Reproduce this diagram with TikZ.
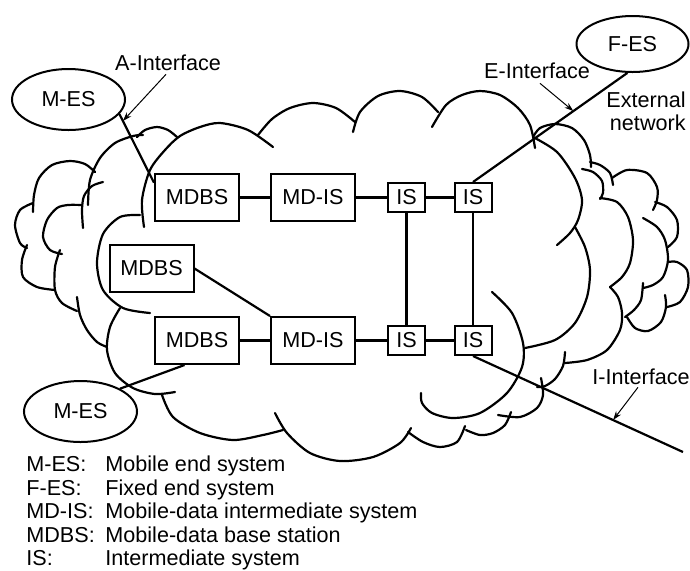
\documentclass[tikz,border=0pt]{standalone}
\usepackage{fontspec}
\setmainfont{Liberation Sans}
\usetikzlibrary{shapes.geometric,arrows.meta,calc}
\newcommand\figfont{\fontsize{10.8}{11.6}\selectfont}
\begin{document}
\begin{tikzpicture}[x=0.5pt,y=-0.5pt,
  cloud/.style={line width=1.1pt,line cap=round,line join=round},
  link/.style={line width=1.1pt},
  box/.style={draw,line width=1pt,fill=white,inner sep=0pt,font=\figfont,
    minimum width=42pt,minimum height=23.5pt},
  isbox/.style={box,minimum width=18.5pt,minimum height=14.5pt},
  station/.style={draw,ellipse,line width=1pt,fill=white,inner sep=0pt,
    font=\figfont,minimum width=56.5pt,minimum height=30.5pt},
  lbl/.style={inner sep=0pt,font=\figfont},
  pointer/.style={line width=0.5pt,-{Stealth[length=4.5pt,width=3pt]}},
  legend/.style={inner sep=0pt,font=\figfont,anchor=base west}]
\useasboundingbox (0,0) rectangle (690,570);

% ---- backbone cloud ----
\draw[cloud] plot[smooth] coordinates {(144,227) (142,200) (150,170) (165,150) (180,136) (200,127) (220,123) (248,130) (273,147)};
\draw[cloud] plot[smooth] coordinates {(258,135) (272,119) (290,108) (313,103) (336,108) (355,122)};
\draw[cloud] plot[smooth] coordinates {(353,132) (360,112) (378,96) (400,91) (422,97) (438,112)};
\draw[cloud] plot[smooth] coordinates {(432,127) (446,105) (462,95) (480,91) (500,95) (518,108) (530,125) (535,148)};
\draw[cloud] plot[smooth] coordinates {(533,137) (557,152) (575,178) (582,200) (578,220) (570,233) (557,245)};
\draw[cloud] plot[smooth] coordinates {(575,227) (585,247) (590,270) (587,297) (575,323) (555,340) (525,348)};
\draw[cloud] plot[smooth] coordinates {(492,292) (512,313) (523,343) (522,367) (507,393) (480,413) (453,418) (432,413) (422,403) (421,393)};
\draw[cloud] plot[smooth] coordinates {(275,413) (287,433) (310,453) (340,461) (373,457) (400,443) (411,428)};
\draw[cloud] plot[smooth] coordinates {(162,395) (173,417) (200,433) (233,440) (263,435) (283,430)};
\draw[cloud] plot[smooth] coordinates {(120,308) (110,327) (107,350) (115,373) (133,388) (155,394) (175,392)};
\draw[cloud] plot[smooth] coordinates {(140,215) (120,217) (103,234) (97,263) (103,290) (123,308) (150,313)};

% ---- external network cloud ----
\draw[cloud] plot[smooth] coordinates {(533,137) (540,128) (555,124) (572,128) (584,140) (590,155) (591,167)};
\draw[cloud] plot[smooth] coordinates {(582,169) (593,172) (602,181) (603,193) (600,199)};
\draw[cloud] plot[smooth] coordinates {(590,162) (600,165) (610,173) (613,185)};
\draw[cloud] plot[smooth] coordinates {(612,178) (627,170) (647,173) (657,187) (657,200) (653,210)};
\draw[cloud] plot[smooth] coordinates {(655,202) (667,207) (677,220) (677,237) (668,247)};
\draw[cloud] plot[smooth] coordinates {(668,262) (677,262) (687,270) (688,287) (680,302) (667,307)};
\draw[cloud] plot[smooth] coordinates {(600,198) (617,202) (628,217) (633,240) (630,263) (622,277) (610,287)};
\draw[cloud] plot[smooth] coordinates {(643,218) (657,227) (665,240) (668,260) (663,277) (653,285) (643,288)};
\draw[cloud] plot[smooth] coordinates {(610,287) (618,297) (622,313) (620,330) (607,350) (587,360) (565,363)};
\draw[cloud] plot[smooth] coordinates {(643,283) (641,300) (634,310) (625,317)};
\draw[cloud] plot[smooth] coordinates {(627,317) (635,328) (648,331) (661,322) (666,307) (665,295)};
\draw[cloud] plot[smooth] coordinates {(565,352) (563,366) (555,379) (545,386) (537,387)};
\draw[cloud] plot[smooth] coordinates {(541,378) (543,395) (537,408) (520,417) (498,415)};
\draw[cloud] plot[smooth] coordinates {(511,412) (505,425) (493,433) (480,435) (466,430)};
\draw[cloud] plot[smooth] coordinates {(465,426) (457,442) (440,447) (423,442) (408,432)};

% ---- cloud on the left ----
\draw[cloud] plot[smooth] coordinates {(95,172) (85,164) (70,161) (52,165) (39,178) (34,195) (33,212)};
\draw[cloud] plot[smooth] coordinates {(33,203) (20,210) (15,225) (20,243) (27,248)};
\draw[cloud] plot[smooth] coordinates {(27,245) (22,260) (23,277) (37,287) (55,290)};
\draw[cloud] plot[smooth] coordinates {(88,205) (90,180) (100,158) (115,143) (133,136) (143,135)};
\draw[cloud] plot[smooth] coordinates {(103,182) (92,186) (84,196) (82,210) (83,228)};
\draw[cloud] plot[smooth] coordinates {(82,205) (68,205) (57,208) (47,220) (43,237) (50,250) (62,254)};
\draw[cloud] plot[smooth] coordinates {(60,250) (55,267) (55,290) (62,303) (77,311)};
\draw[cloud] plot[smooth] coordinates {(77,297) (80,315) (87,330) (97,342) (107,347)};
\draw[cloud] plot[smooth] coordinates {(137,137) (145,130) (157,127) (168,130) (177,137)};

% ---- network elements ----
\node[box]   (MDBS1) at (197,197.5) {MDBS};
\node[box]   (MDIS1) at (313,197.5) {MD-IS};
\node[isbox] (IS1)   at (406.5,197.5) {IS};
\node[isbox] (IS2)   at (473,197.5) {IS};
\node[box]   (MDBS2) at (151.5,268.5) {MDBS};
\node[box]   (MDBS3) at (197,340.5) {MDBS};
\node[box]   (MDIS2) at (313,340.5) {MD-IS};
\node[isbox] (IS3)   at (406.5,340.5) {IS};
\node[isbox] (IS4)   at (473,340.5) {IS};

\node[station] (MES1) at (68.5,99.5) {M-ES};
\node[station] (MES2) at (80.5,411.5) {M-ES};
\node[station,minimum width=56pt,minimum height=28pt] (FES) at (632.5,44) {F-ES};

\coordinate (iEnd) at (683,452);

% ---- links ----
\draw[link] (MDBS1) -- (MDIS1);
\draw[link] (MDIS1) -- (IS1);
\draw[link] (IS1) -- (IS2);
\draw[link] (MDBS3) -- (MDIS2);
\draw[link] (MDIS2) -- (IS3);
\draw[link] (IS3) -- (IS4);
\draw[link] (IS1) -- (IS3);
\draw[link] (IS2) -- (IS4);
\draw[link] (MDBS2.east) -- (MDIS2.north west);
\draw[link] (MES1.-16) -- (MDBS1.161);
\draw[link] (MES2.30) -- (MDBS3.-117);
\draw[link] (IS2.north) -- (FES.-100);
\draw[link] (IS4.south) -- (iEnd);

% ---- interface labels ----
\node[lbl] (Alab) at (168,63) {A-Interface};
\node[lbl] (Elab) at (537,71) {E-Interface};
\node[lbl,anchor=east] (Ilab) at (690,377) {I-Interface};
\node[lbl,align=right,anchor=east] (ext) at (686,111.5) {External\\network};

\draw[pointer] ($(Alab.south)+(-2,3)$) -- ($(MES1.-16)!0.1!(MDBS1.161)$);
\draw[pointer] ($(Elab.south)+(3,4)$) -- ($(IS2.north)!0.65!(FES.-100)$);
\draw[pointer] ($(Ilab.south)+(-3,2)$) -- ($(IS4.south)!0.667!(iEnd)$);

% ---- legend ----
\node[legend] (k1) at (26,471.5) {M-ES:};
\node[legend] (d1) at (105,471.5) {Mobile end system};
\node[legend] (k2) at (26,495) {F-ES:};
\node[legend] (d2) at (105,495) {Fixed end system};
\node[legend] (k3) at (26,518.5) {MD-IS:};
\node[legend] (d3) at (105,518.5) {Mobile-data intermediate system};
\node[legend] (k4) at (26,542) {MDBS:};
\node[legend] (d4) at (105,542) {Mobile-data base station};
\node[legend] (k5) at (26,565.5) {IS:};
\node[legend] (d5) at (105,565.5) {Intermediate system};
\end{tikzpicture}
\end{document}
